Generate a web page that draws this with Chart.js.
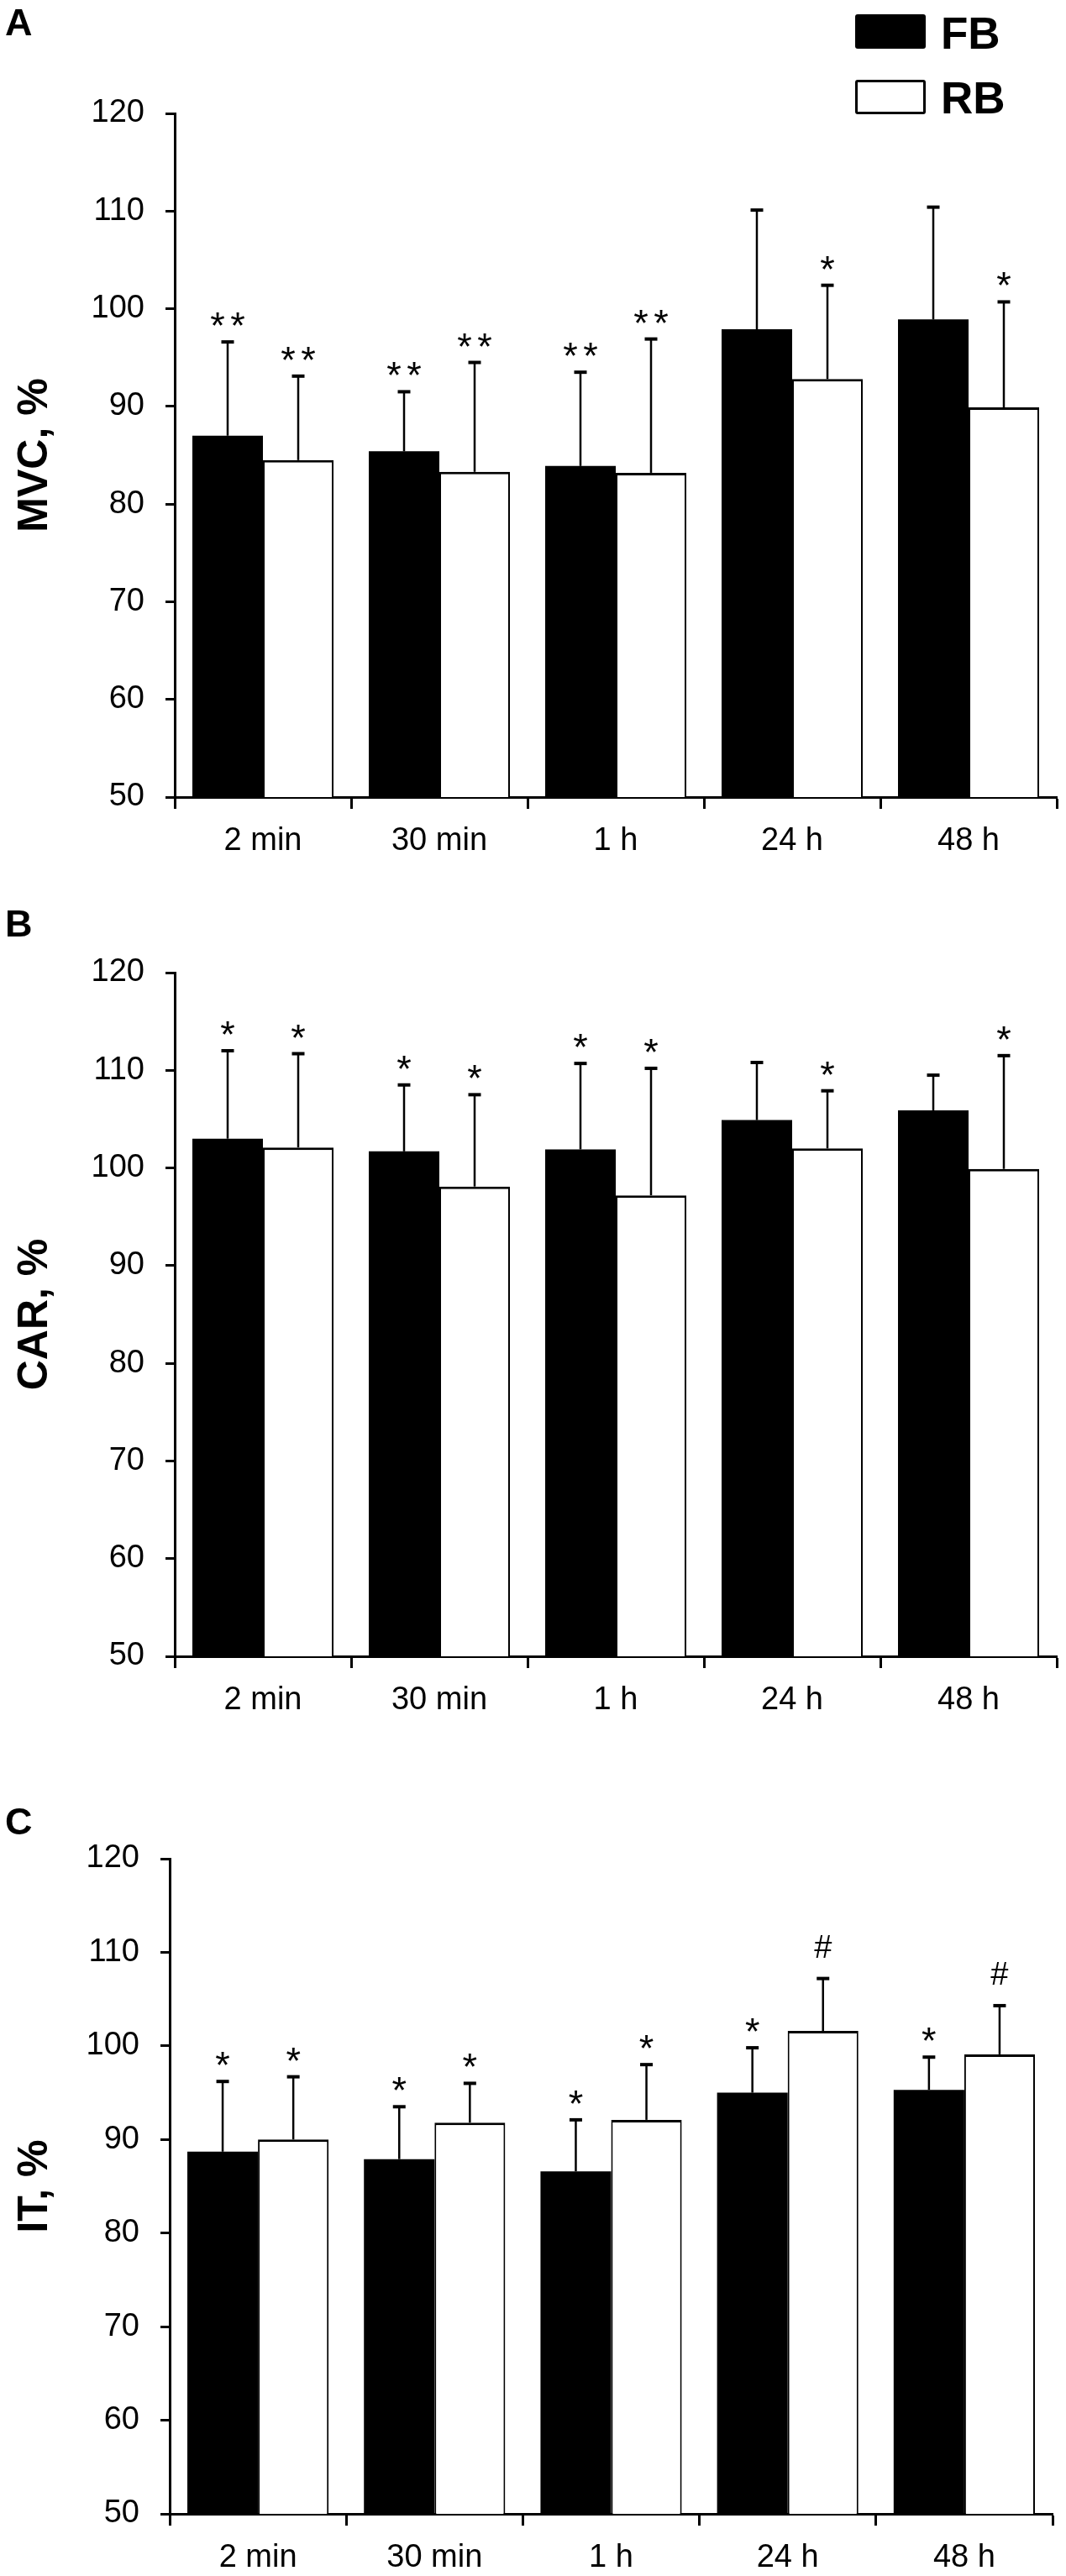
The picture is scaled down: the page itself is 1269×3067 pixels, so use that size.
<!DOCTYPE html>
<html>
<head>
<meta charset="utf-8">
<script src="https://cdn.jsdelivr.net/npm/chart.js@4.4.0/dist/chart.umd.min.js"></script>
<style>
  html, body { margin: 0; padding: 0; background: #fff; }
  body { width: 1269px; height: 3067px; position: relative; overflow: hidden; font-family: "Liberation Sans", Arial, sans-serif; }
  canvas { position: absolute; left: 0; }
  .letter { position: absolute; left: 6px; font-weight: bold; font-size: 45px; line-height: 45px; color: #000; }
  .legend { position: absolute; left: 1018px; top: 0; width: 251px; height: 150px; }
  .lg-box { position: absolute; left: 0; width: 84px; height: 41px; box-sizing: border-box; border-radius: 3px; }
  .lg-text { position: absolute; left: 102px; font-weight: bold; font-size: 53px; line-height: 53px; color: #000; }
</style>
</head>
<body>
<canvas id="cA" width="1269" height="1060" style="top:0px"></canvas>
<canvas id="cB" width="1269" height="1012" style="top:1060px"></canvas>
<canvas id="cC" width="1269" height="995" style="top:2072px"></canvas>
<div class="letter" style="top:4px">A</div>
<div class="letter" style="top:1077px">B</div>
<div class="letter" style="top:2146px">C</div>
<div class="legend" id="legend"></div>
<script>
// ---------- data ----------
const categories = ['2 min', '30 min', '1 h', '24 h', '48 h'];
const seriesNames = ['FB', 'RB'];
const yMin = 50, yMax = 120, yStep = 10;

// Panel A: MVC, %
const mvcFB    = [87.0, 85.4, 83.9, 97.9, 98.9];
const mvcFBsd  = [9.6, 6.1, 9.6, 12.2, 11.5];
const mvcFBsig = ['**', '**', '**', '', ''];
const mvcRB    = [84.5, 83.3, 83.2, 92.8, 89.9];
const mvcRBsd  = [8.6, 11.2, 13.7, 9.6, 10.8];
const mvcRBsig = ['**', '**', '**', '*', '*'];

// Panel B: CAR, %
const carFB    = [103.0, 101.7, 101.9, 104.9, 105.9];
const carFBsd  = [9.0, 6.8, 8.8, 5.9, 3.6];
const carFBsig = ['*', '*', '*', '', ''];
const carRB    = [102.1, 98.1, 97.2, 102.0, 99.9];
const carRBsd  = [9.6, 9.4, 13.0, 5.9, 11.6];
const carRBsig = ['*', '*', '*', '*', '*'];

// Panel C: IT, %
const itFB    = [88.7, 87.9, 86.6, 95.0, 95.3];
const itFBsd  = [7.5, 5.6, 5.5, 4.8, 3.5];
const itFBsig = ['*', '*', '*', '*', '*'];
const itRB    = [90.0, 91.8, 92.1, 101.6, 99.1];
const itRBsd  = [6.7, 4.2, 5.9, 5.6, 5.2];
const itRBsig = ['*', '*', '*', '#', '#'];

// ---------- legend (HTML) ----------
(function () {
  const lg = document.getElementById('legend');
  const styles = [
    { boxTop: 17, textTop: 13, bg: '#000', border: 'none' },
    { boxTop: 95, textTop: 90, bg: '#fff', border: '3px solid #000' }
  ];
  seriesNames.forEach((name, i) => {
    const b = document.createElement('div');
    b.className = 'lg-box';
    b.style.top = styles[i].boxTop + 'px';
    b.style.background = styles[i].bg;
    b.style.border = styles[i].border;
    lg.appendChild(b);
    const t = document.createElement('div');
    t.className = 'lg-text';
    t.style.top = styles[i].textTop + 'px';
    t.textContent = name;
    lg.appendChild(t);
  });
})();

// ---------- error bars + significance marks ----------
const errorBarPlugin = {
  id: 'errBars',
  afterDatasetsDraw(chart) {
    const ctx = chart.ctx;
    const ys = chart.scales.y;
    chart.data.datasets.forEach((ds, di) => {
      const meta = chart.getDatasetMeta(di);
      meta.data.forEach((bar, i) => {
        const topPx = ys.getPixelForValue(ds.data[i] + ds.sd[i]);
        ctx.save();
        ctx.strokeStyle = '#000';
        ctx.lineWidth = 2.5;
        ctx.beginPath();
        ctx.moveTo(bar.x, bar.y);
        ctx.lineTo(bar.x, topPx);
        ctx.stroke();
        ctx.lineWidth = 4;
        ctx.beginPath();
        ctx.moveTo(bar.x - 7.5, topPx);
        ctx.lineTo(bar.x + 7.5, topPx);
        ctx.stroke();
        const mark = ds.sig[i];
        if (mark) {
          ctx.fillStyle = '#000';
          ctx.textAlign = 'center';
          ctx.textBaseline = 'alphabetic';
          if (mark === '#') {
            ctx.font = '38px "Liberation Sans", Arial, sans-serif';
            ctx.fillText(mark, bar.x, topPx - 25);
          } else {
            ctx.font = '45px "Liberation Sans", Arial, sans-serif';
            const n = mark.length, pitch = 24;
            for (let k = 0; k < n; k++) {
              ctx.fillText(mark[k], bar.x + (k - (n - 1) / 2) * pitch, topPx - 4);
            }
          }
        }
        ctx.restore();
      });
    });
  }
};

function makePanel(id, title, fb, fbsd, fbsig, rb, rbsd, rbsig, geo) {
  const tickFont = { family: '"Liberation Sans", Arial, sans-serif', size: 38 };
  new Chart(document.getElementById(id), {
    type: 'bar',
    data: {
      labels: categories,
      datasets: [
        { label: seriesNames[0], data: fb, sd: fbsd, sig: fbsig,
          backgroundColor: '#000', borderColor: '#000', borderWidth: 0,
          categoryPercentage: 0.8, barPercentage: 1.0 },
        { label: seriesNames[1], data: rb, sd: rbsd, sig: rbsig,
          backgroundColor: '#fff', borderColor: '#000',
          borderWidth: { top: 3, left: 2, right: 2, bottom: 0 },
          categoryPercentage: 0.8, barPercentage: 1.0 }
      ]
    },
    options: {
      responsive: false,
      animation: false,
      devicePixelRatio: 1,
      layout: { padding: { top: geo.padTop, right: geo.padRight, left: 0, bottom: 0 } },
      plugins: { legend: { display: false }, tooltip: { enabled: false } },
      scales: {
        x: {
          grid: { display: true, drawOnChartArea: false, drawTicks: true, tickLength: 14,
                  tickWidth: 3, tickColor: '#000', offset: true },
          border: { display: true, color: '#000', width: 3 },
          ticks: { color: '#000', font: tickFont, padding: 16, maxRotation: 0, autoSkip: false },
          afterFit(scale) { scale.height = geo.xHeight; }
        },
        y: {
          min: yMin, max: yMax,
          grid: { display: true, drawOnChartArea: false, drawTicks: true, tickLength: 11,
                  tickWidth: 3, tickColor: '#000' },
          border: { display: true, color: '#000', width: 3 },
          ticks: { stepSize: yStep, color: '#000', font: tickFont, padding: 25 },
          title: { display: true, text: title, color: '#000',
                   font: { family: '"Liberation Sans", Arial, sans-serif', size: 50, weight: 'bold' },
                   padding: { top: 12, bottom: 0 } },
          afterFit(scale) { scale.width = geo.axisLeft; }
        }
      }
    },
    plugins: [errorBarPlugin]
  });
}

makePanel('cA', 'MVC, %', mvcFB, mvcFBsd, mvcFBsig, mvcRB, mvcRBsd, mvcRBsig,
          { padTop: 135, padRight: 11, xHeight: 111, axisLeft: 208 });
makePanel('cB', 'CAR, %', carFB, carFBsd, carFBsig, carRB, carRBsd, carRBsig,
          { padTop: 98, padRight: 11, xHeight: 100, axisLeft: 208 });
makePanel('cC', 'IT, %', itFB, itFBsd, itFBsig, itRB, itRBsd, itRBsig,
          { padTop: 141, padRight: 16, xHeight: 74, axisLeft: 202 });
</script>
</body>
</html>
